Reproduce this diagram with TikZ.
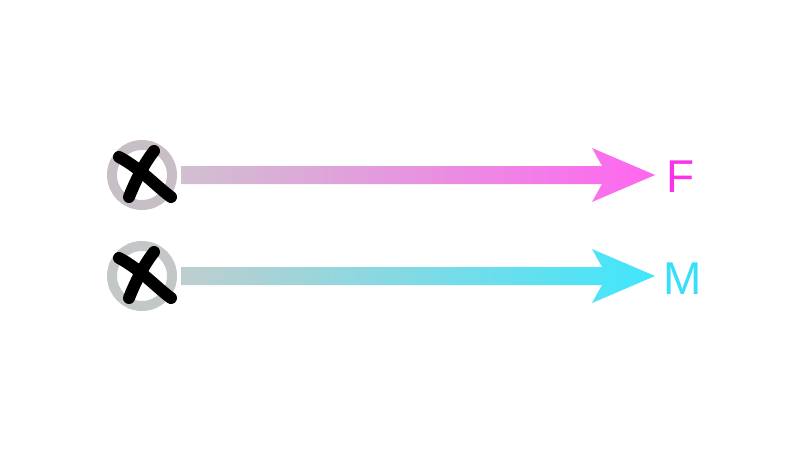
\documentclass[tikz,border=0pt]{standalone}
\usepackage{fontspec}
\setmainfont{Liberation Sans}
\begin{document}
\begin{tikzpicture}[x=1pt,y=-1pt,
  ring/.style={circle, draw=#1, line width=10pt, minimum size=60pt, inner sep=0pt},
  cross/.style={line width=12pt, line cap=round, black},
  lbl/.style={font=\fontsize{46}{46}\selectfont, inner sep=0pt}]
\definecolor{ringF}{RGB}{200,190,198}
\definecolor{ringM}{RGB}{196,199,199}
\definecolor{startF}{RGB}{208,192,208}
\definecolor{endF}{RGB}{255,102,240}
\definecolor{startM}{RGB}{190,206,206}
\definecolor{endM}{RGB}{64,230,252}
\definecolor{txtF}{RGB}{250,50,232}
\definecolor{txtM}{RGB}{56,222,250}
\useasboundingbox (0,0) rectangle (800,450);
\fill[white] (0,0) rectangle (800,450);
% row F
\node[ring=ringF] (cF) at (142,175) {};
\shade[left color=startF, right color=endF]
  (181,166) -- (602,166) -- (592,148) -- (655,175) -- (592,202) -- (602,184) -- (181,184) -- cycle;
\coordinate (tipF) at (655,175);
\draw[cross] (119,157) .. controls (140,168) and (156,186) .. (171,197);
\draw[cross] (154,151) .. controls (143,165) and (135,182) .. (129,197);
\node[lbl, text=txtF] (F) at (681,177) {F};
% row M
\node[ring=ringM] (cM) at (142,276) {};
\shade[left color=startM, right color=endM]
  (181,267) -- (602,267) -- (592,249) -- (655,276) -- (592,303) -- (602,285) -- (181,285) -- cycle;
\coordinate (tipM) at (655,276);
\draw[cross] (119,258) .. controls (140,269) and (156,287) .. (171,298);
\draw[cross] (154,252) .. controls (143,266) and (135,283) .. (129,298);
\node[lbl, text=txtM] (M) at (683,279) {M};
\end{tikzpicture}
\end{document}
